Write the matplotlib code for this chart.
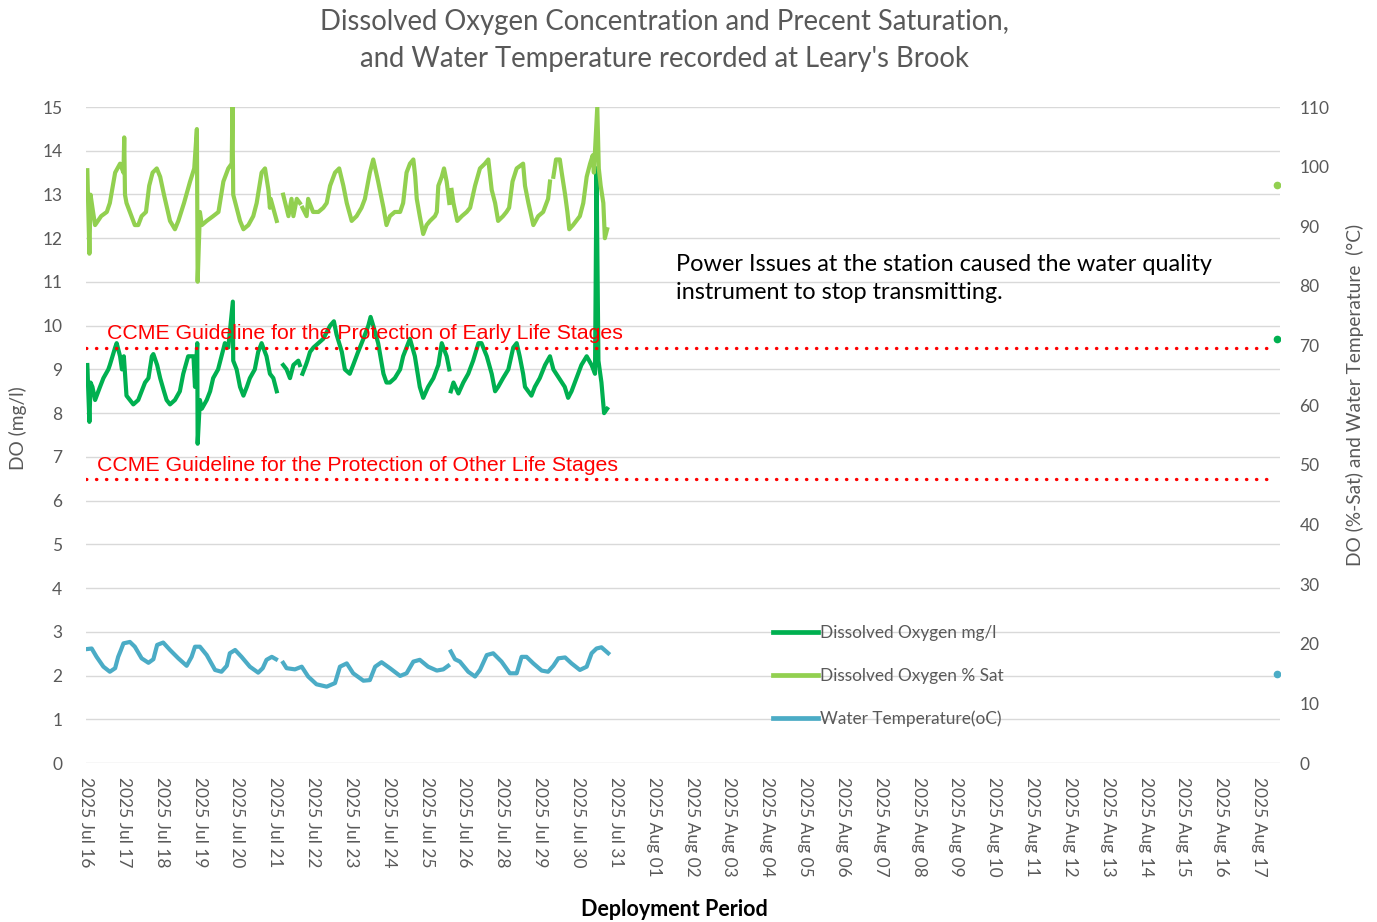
import matplotlib
matplotlib.use("Agg")
import matplotlib.pyplot as plt
from matplotlib.lines import Line2D
import numpy as np

nan = np.nan

# x positions are in "tick label" units (Jul 27 has no label on the original axis)
tick_labels = ["2025 Jul 16", "2025 Jul 17", "2025 Jul 18", "2025 Jul 19", "2025 Jul 20",
               "2025 Jul 21", "2025 Jul 22", "2025 Jul 23", "2025 Jul 24", "2025 Jul 25",
               "2025 Jul 26", "2025 Jul 28", "2025 Jul 29", "2025 Jul 30", "2025 Jul 31",
               "2025 Aug 01", "2025 Aug 02", "2025 Aug 03", "2025 Aug 04", "2025 Aug 05",
               "2025 Aug 06", "2025 Aug 07", "2025 Aug 08", "2025 Aug 09", "2025 Aug 10",
               "2025 Aug 11", "2025 Aug 12", "2025 Aug 13", "2025 Aug 14", "2025 Aug 15",
               "2025 Aug 16", "2025 Aug 17"]

# dissolved oxygen, mg/l (left axis)
do_day = [0.035, 0.09, 0.12, 0.17, 0.24, 0.37, 0.46, 0.59, 0.63, 0.77, 0.81, 0.90, 0.95, 1.00,
          1.07, 1.16, 1.25, 1.38, 1.47, 1.56, 1.65, 1.74, 1.78, 1.88, 1.96, 2.06, 2.13, 2.22,
          2.35, 2.48, 2.57, 2.70, 2.84, 2.88, 2.94, 2.95, 3.01, 3.06, 3.19, 3.28, 3.36, 3.49,
          3.58, 3.67, 3.76, 3.88, 3.89, 3.98, 4.07, 4.16, 4.25, 4.33, 4.46, 4.55, 4.64, 4.77,
          4.86, 4.95, 5.04, 5.12, 5.21, 5.30, 5.39, 5.48, 5.61, 5.65, 5.68, 5.72, 5.81, 5.85,
          5.92, 6.01, 6.14, 6.27, 6.45, 6.55, 6.62, 6.76, 6.84, 6.97, 7.06, 7.19, 7.33, 7.46,
          7.52, 7.59, 7.72, 7.86, 7.94, 8.03, 8.16, 8.30, 8.38, 8.56, 8.69, 8.82, 8.91, 9.04,
          9.18, 9.31, 9.40, 9.53, 9.60, 9.62, 9.64, 9.71, 9.84, 9.97, 10.10, 10.23, 10.37,
          10.45, 10.59, 10.72, 10.81, 10.89, 11.02, 11.16, 11.29, 11.38, 11.46, 11.55, 11.60,
          11.77, 11.86, 11.99, 12.13, 12.26, 12.35, 12.50, 12.65, 12.74, 12.83, 12.96, 13.09,
          13.23, 13.36, 13.45, 13.49, 13.54, 13.62, 13.69, 13.77, 20.0, 31.47]
do_mgl = [9.1, 7.8, 8.7, 8.6, 8.3, 8.6, 8.8, 9.0, 9.1, 9.5, 9.6, 9.3, 9.0, 9.3,
          8.4, 8.3, 8.2, 8.3, 8.5, 8.7, 8.8, 9.3, 9.35, 9.1, 8.8, 8.5, 8.3, 8.2,
          8.3, 8.5, 8.9, 9.3, 9.3, 8.6, 9.6, 7.3, 8.3, 8.1, 8.3, 8.5, 8.8, 9.0,
          9.3, 9.6, 9.5, 10.55, 9.2, 9.0, 8.6, 8.4, 8.6, 8.8, 9.0, 9.4, 9.6, 9.3,
          8.9, 8.8, 8.5, nan, 9.1, 9.0, 8.8, 9.1, 9.2, 9.1, nan, 8.9, 9.1, 9.2,
          9.4, 9.5, 9.6, 9.7, 10.0, 10.1, 9.8, 9.4, 9.0, 8.9, 9.1, 9.4, 9.7, 10.0,
          10.2, 10.0, 9.6, 8.9, 8.7, 8.7, 8.8, 9.0, 9.3, 9.7, 9.3, 8.6, 8.35, 8.6,
          8.8, 9.1, 9.6, 9.3, 9.0, nan, 8.5, 8.7, 8.45, 8.7, 8.9, 9.2, 9.6,
          9.6, 9.3, 8.9, 8.5, 8.6, 8.8, 9.0, 9.5, 9.6, 9.3, 8.9, 8.6,
          8.4, 8.6, 8.8, 9.1, 9.3, 9.0, 8.8, 8.6, 8.35, 8.5, 8.8, 9.1,
          9.3, 9.1, 8.9, 13.6, 9.2, 8.7, 8.0, 8.1, nan, 9.7]

# dissolved oxygen, % saturation (right axis)
sat_day = [0.035, 0.09, 0.12, 0.17, 0.24, 0.40, 0.55, 0.63, 0.77, 0.90, 0.99, 1.01, 1.03,
           1.07, 1.16, 1.29, 1.38, 1.47, 1.585, 1.67, 1.76, 1.87, 1.96, 2.06, 2.22, 2.35,
           2.44, 2.59, 2.75, 2.86, 2.93, 2.95, 3.01, 3.06, 3.19, 3.36, 3.50, 3.63, 3.76,
           3.85, 3.87, 3.89, 4.07, 4.16, 4.29, 4.42, 4.51, 4.64, 4.73, 4.82, 4.86, 4.88,
           5.04, 5.12, 5.21, 5.35, 5.43, 5.48, 5.57, 5.65, 5.68, 5.72, 5.83, 5.87, 6.00,
           6.14, 6.27, 6.36, 6.45, 6.58, 6.69, 6.80, 6.89, 7.02, 7.15, 7.28, 7.37, 7.50,
           7.59, 7.72, 7.86, 7.94, 8.03, 8.16, 8.30, 8.38, 8.47, 8.56, 8.65, 8.70, 8.74,
           8.82, 8.91, 9.00, 9.09, 9.22, 9.27, 9.31, 9.40, 9.46, 9.53, 9.60, 9.62, 9.66,
           9.71, 9.81, 9.93, 10.06, 10.15, 10.28, 10.41, 10.54, 10.63, 10.72, 10.81, 10.89,
           11.02, 11.11, 11.18, 11.27, 11.38, 11.55, 11.60, 11.69, 11.82, 11.95, 12.08,
           12.21, 12.26, 12.30, 12.35, 12.42, 12.52, 12.57, 12.66, 12.72, 12.77, 12.87,
           13.05, 13.14, 13.23, 13.32, 13.39, 13.42, 13.51, 13.55, 13.60, 13.67, 13.71,
           13.77, 20.0, 31.47]
do_sat = [99.4, 85.4, 95.3, 93.1, 90.2, 91.7, 92.4, 93.9, 99.0, 100.5, 99.0, 104.9, 95.3,
          93.9, 92.4, 90.2, 90.2, 91.7, 92.4, 96.8, 99.0, 99.7, 98.3, 95.3, 90.9, 89.5,
          90.9, 93.9, 97.5, 99.7, 106.3, 80.7, 92.4, 90.2, 90.9, 91.7, 92.4, 97.5, 99.7,
          100.5, 110.0, 95.3, 90.9, 89.5, 90.2, 91.7, 93.9, 99.0, 99.7, 96.1, 93.1, 94.6,
          90.9, nan, 95.3, 91.7, 94.6, 91.7, 94.6, 93.9, nan, 93.1, 91.7, 94.6, 92.4,
          92.4, 93.1, 93.9, 96.8, 99.0, 99.7, 96.8, 93.9, 90.9, 91.7, 93.1, 94.6, 99.0,
          101.2, 97.5, 93.1, 90.2, 91.7, 92.4, 92.4, 93.9, 99.0, 100.5, 101.2, 98.3, 94.6,
          91.7, 88.7, 90.2, 90.9, 91.7, 92.4, 96.8, 98.3, 99.7, 97.5, 93.9, nan, 96.1,
          93.9, 90.9, 91.7, 92.4, 93.1, 96.8, 99.7, 100.5, 101.2, 96.1, 93.9, 90.9,
          91.7, 92.4, 93.1, 97.5, 99.7, 100.5, 96.8, 93.9, 90.2, 91.7, 92.4,
          94.6, 97.5, nan, 98.3, 101.2, 101.2, 99.0, 95.3, 92.4, 89.5, 90.2,
          91.7, 93.9, 98.3, 100.5, 101.9, 99.0, 110.0, 99.7, 96.8, 93.9, 88.0,
          89.5, nan, 97.0]

# water temperature, deg C (right axis)
temp_day = [0.02, 0.15, 0.28, 0.46, 0.63, 0.77, 0.85, 0.92, 0.99, 1.16, 1.29, 1.47, 1.65,
            1.78, 1.88, 2.04, 2.22, 2.44, 2.66, 2.79, 2.88, 3.01, 3.19, 3.41, 3.58, 3.72,
            3.80, 3.94, 4.11, 4.33, 4.55, 4.67, 4.77, 4.91, 5.02, 5.10, 5.21, 5.30, 5.52,
            5.70, 5.87, 6.09, 6.36, 6.58, 6.71, 6.89, 7.06, 7.33, 7.50, 7.64, 7.81, 8.03,
            8.30, 8.47, 8.65, 8.82, 9.04, 9.27, 9.44, 9.57, 9.60, 9.64, 9.75, 9.88, 10.10,
            10.28, 10.41, 10.59, 10.76, 10.98, 11.20, 11.38, 11.51, 11.64, 11.82, 12.04,
            12.21, 12.35, 12.48, 12.66, 12.83, 13.05, 13.23, 13.36, 13.49, 13.62, 13.80,
            20.0, 31.47]
temp_c = [19.1, 19.2, 17.8, 16.15, 15.3, 15.9, 17.8, 18.9, 20.06, 20.3, 19.5, 17.55, 16.8,
          17.4, 19.8, 20.2, 18.95, 17.55, 16.3, 17.8, 19.5, 19.5, 18.1, 15.6, 15.3, 16.3,
          18.4, 18.95, 17.8, 16.15, 15.15, 15.9, 17.3, 17.8, 17.4, nan, 16.8, 15.9, 15.7,
          16.15, 14.5, 13.2, 12.8, 13.4, 16.15, 16.7, 15.04, 13.8, 13.9, 16.15, 16.9, 15.9,
          14.6, 15.04, 17.0, 17.3, 16.15, 15.5, 15.7, 16.3, nan, 18.7, 17.4, 17.0, 15.3,
          14.5, 15.6, 18.1, 18.4, 17.0, 15.04, 15.04, 17.8, 17.8, 16.7, 15.5,
          15.3, 16.3, 17.55, 17.7, 16.7, 15.6, 16.15, 18.4, 19.2, 19.4, 18.4,
          nan, 15.0]

guide_early = 9.5
guide_other = 6.5

C_MGL = "#00B050"
C_SAT = "#92D050"
C_TEMP = "#4BACC6"
GREY = "#595959"

plt.rcParams["font.family"] = ["Lato", "DejaVu Sans"]

fig = plt.figure(figsize=(13.77, 9.22), dpi=100)
ax = fig.add_axes([86 / 1377, 1 - 763 / 922, 1194 / 1377, 656 / 922])
ax2 = ax.twinx()

ax.set_xlim(0, 31.55)
ax.set_ylim(0, 15)
ax2.set_ylim(0, 110)
ax.set_yticks(range(0, 16))
ax2.set_yticks(range(0, 111, 10))
ax.set_xticks(range(len(tick_labels)))
ax.set_xticklabels(tick_labels, rotation=270, va="top", ha="center")
ax.grid(axis="y", color="#D9D9D9", lw=1)
ax.set_axisbelow(True)
for a in (ax, ax2):
    for s in a.spines.values():
        s.set_visible(False)
    a.tick_params(length=0, labelsize=12.5, labelcolor=GREY)
ax.tick_params(axis="x", pad=10)
ax.tick_params(axis="y", pad=17)
ax2.tick_params(axis="y", pad=14)

LW = 3.0
ax.plot(do_day, do_mgl, color=C_MGL, lw=LW, marker="o", ms=4.5,
        markevery=[len(do_day) - 1], zorder=3)
ax2.plot(sat_day, do_sat, color=C_SAT, lw=LW, marker="o", ms=4.5,
         markevery=[len(sat_day) - 1], zorder=3)
ax2.plot(temp_day, temp_c, color=C_TEMP, lw=LW, marker="o", ms=4.5,
         markevery=[len(temp_day) - 1], zorder=3)

for g in (guide_early, guide_other):
    ax.axhline(g, xmin=0, xmax=0.994, color="#FF0000", lw=2.4,
               linestyle=(0, (0.1, 2.9)), dash_capstyle="round", zorder=4)

ax.text(0.55, 9.81, "CCME Guideline for the Protection of Early Life Stages", color="#FF0000",
        fontsize=15.3, family="Liberation Sans", va="center", ha="left", zorder=5)
ax.text(0.29, 6.81, "CCME Guideline for the Protection of Other Life Stages", color="#FF0000",
        fontsize=15.3, family="Liberation Sans", va="center", ha="left", zorder=5)
ax.text(15.59, 11.08, "Power Issues at the station caused the water quality\n"
        "instrument to stop transmitting.", color="black", fontsize=16.9,
        va="center", ha="left", linespacing=1.4)

handles = [Line2D([], [], color=C_MGL, lw=3.4),
           Line2D([], [], color=C_SAT, lw=3.4),
           Line2D([], [], color=C_TEMP, lw=3.4)]
labels = ["Dissolved Oxygen mg/l", "Dissolved Oxygen % Sat", "Water Temperature(oC)"]
ax2.legend(handles, labels, loc="center left", bbox_to_anchor=(0.575, 0.1326),
           frameon=False, fontsize=12.4, labelcolor=GREY, handlelength=2.65,
           handletextpad=0.12, labelspacing=1.55, borderpad=0, borderaxespad=0)

fig.text(665 / 1377, 1 - 22 / 922, "Dissolved Oxygen Concentration and Precent Saturation,",
         ha="center", va="center", fontsize=19.8, color=GREY)
fig.text(665 / 1377, 1 - 59 / 922, "and Water Temperature recorded at Leary's Brook",
         ha="center", va="center", fontsize=19.8, color=GREY)
fig.text(18 / 1377, 1 - 428 / 922, "DO (mg/l)", rotation=90, ha="center", va="center",
         fontsize=13.8, color=GREY)
fig.text(1355 / 1377, 1 - 395 / 922, "DO (%-Sat) and Water Temperature  (°C)", rotation=90,
         ha="center", va="center", fontsize=13.8, color=GREY)
fig.text(674 / 1377, 1 - 909 / 922, "Deployment Period", ha="center", va="center",
         fontsize=15.5, fontweight="bold", color="black")

fig.savefig("out.png", dpi=100)
